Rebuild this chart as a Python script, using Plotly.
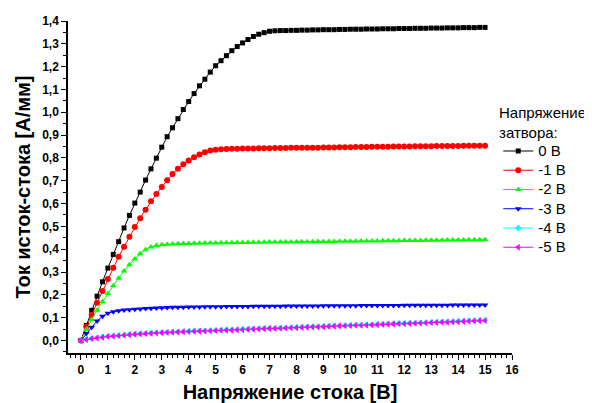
import plotly.graph_objects as go

# Drain voltage grid (V)
vds = [0.0, 0.2, 0.4, 0.6, 0.8, 1.0, 1.2, 1.4, 1.6, 1.8,
       2.0, 2.2, 2.4, 2.6, 2.8, 3.0, 3.2, 3.4, 3.6, 3.8,
       4.0, 4.2, 4.4, 4.6, 4.8, 5.0, 5.2, 5.4, 5.6, 5.8,
       6.0, 6.2, 6.4, 6.6, 6.8, 7.0, 7.2, 7.4, 7.6, 7.8,
       8.0, 8.2, 8.4, 8.6, 8.8, 9.0, 9.2, 9.4, 9.6, 9.8,
       10.0, 10.2, 10.4, 10.6, 10.8, 11.0, 11.2, 11.4, 11.6, 11.8,
       12.0, 12.2, 12.4, 12.6, 12.8, 13.0, 13.2, 13.4, 13.6, 13.8,
       14.0, 14.2, 14.4, 14.6, 14.8, 15.0]

i_0v = [0.000, 0.066, 0.132, 0.194, 0.257, 0.317, 0.377, 0.433, 0.493, 0.548,
        0.602, 0.650, 0.703, 0.752, 0.799, 0.847, 0.893, 0.932, 0.972, 1.012,
        1.047, 1.082, 1.116, 1.145, 1.176, 1.204, 1.226, 1.248, 1.270, 1.288,
        1.304, 1.319, 1.332, 1.342, 1.349, 1.355, 1.357, 1.358,
        1.358, 1.359, 1.359, 1.360, 1.360, 1.361, 1.361, 1.362, 1.362, 1.362,
        1.363, 1.363, 1.364, 1.364, 1.364, 1.365, 1.365, 1.365, 1.366, 1.366,
        1.366, 1.367, 1.367, 1.367, 1.368, 1.368, 1.368, 1.369, 1.369, 1.369,
        1.370, 1.370, 1.370, 1.371, 1.371, 1.371, 1.372, 1.372]

i_m1v = [0.000, 0.060, 0.113, 0.165, 0.217, 0.269, 0.319, 0.367, 0.411, 0.455,
         0.497, 0.536, 0.573, 0.610, 0.642, 0.672, 0.702, 0.730, 0.752, 0.772,
         0.789, 0.803, 0.815, 0.825, 0.832, 0.836, 0.838, 0.839,
         0.840, 0.840, 0.841, 0.841, 0.841, 0.842, 0.842, 0.842, 0.843, 0.843,
         0.843, 0.844, 0.844, 0.844, 0.845, 0.845, 0.845, 0.846, 0.846, 0.846,
         0.847, 0.847, 0.847, 0.848, 0.848, 0.848, 0.849, 0.849, 0.849, 0.849,
         0.850, 0.850, 0.850, 0.850, 0.851, 0.851, 0.851, 0.851, 0.852, 0.852,
         0.852, 0.852, 0.852, 0.853, 0.853, 0.853, 0.853, 0.853]

i_m2v = [0.000, 0.048, 0.092, 0.132, 0.170, 0.206, 0.240, 0.273, 0.304, 0.332,
         0.357, 0.380, 0.398, 0.410, 0.416, 0.419, 0.421, 0.423, 0.424,
         0.425, 0.425, 0.426, 0.426, 0.427, 0.427, 0.427, 0.428, 0.428, 0.428,
         0.429, 0.429, 0.429, 0.430, 0.430, 0.430, 0.431, 0.431, 0.431, 0.432,
         0.432, 0.432, 0.433, 0.433, 0.433, 0.434, 0.434, 0.434, 0.434, 0.435,
         0.435, 0.435, 0.435, 0.436, 0.436, 0.436, 0.436, 0.437, 0.437, 0.437,
         0.437, 0.438, 0.438, 0.438, 0.438, 0.439, 0.439, 0.439, 0.439, 0.440,
         0.440, 0.440, 0.440, 0.441, 0.441, 0.441, 0.441]

i_m3v = [0.000, 0.030, 0.058, 0.085, 0.106, 0.119, 0.126, 0.130, 0.133, 0.135,
         0.137, 0.138, 0.140, 0.141, 0.142, 0.143, 0.144, 0.145, 0.146, 0.146,
         0.147, 0.147, 0.147, 0.148, 0.148, 0.148, 0.148, 0.149, 0.149, 0.149,
         0.149, 0.149, 0.150, 0.150, 0.150, 0.150, 0.150, 0.150, 0.151, 0.151,
         0.151, 0.151, 0.151, 0.151, 0.151, 0.152, 0.152, 0.152, 0.152, 0.152,
         0.152, 0.152, 0.153, 0.153, 0.153, 0.153, 0.153, 0.153, 0.153, 0.153,
         0.154, 0.154, 0.154, 0.154, 0.154, 0.154, 0.154, 0.154, 0.154, 0.155,
         0.155, 0.155, 0.155, 0.155, 0.155, 0.155]

i_m4v = [0.000, 0.005, 0.009, 0.012, 0.015, 0.018, 0.020, 0.022, 0.024, 0.026,
         0.028, 0.030, 0.031, 0.033, 0.034, 0.035, 0.036, 0.037, 0.038, 0.039,
         0.040,
         0.041, 0.042, 0.043, 0.044, 0.045, 0.046, 0.047, 0.047, 0.048, 0.049,
         0.050, 0.051, 0.052, 0.053, 0.054, 0.054, 0.055, 0.056, 0.057, 0.058,
         0.059, 0.060, 0.061, 0.061, 0.062, 0.063, 0.064, 0.065, 0.066, 0.067,
         0.068, 0.068, 0.069, 0.070, 0.071, 0.072, 0.073, 0.074, 0.075, 0.075,
         0.076, 0.077, 0.078, 0.079, 0.080, 0.081, 0.082, 0.082, 0.083, 0.084,
         0.085, 0.086, 0.087, 0.088, 0.089]

i_m5v = [0.000, 0.004, 0.008, 0.011, 0.014, 0.017, 0.019, 0.021, 0.023, 0.025,
         0.027, 0.028, 0.030, 0.031, 0.033, 0.034, 0.035, 0.036, 0.037, 0.038,
         0.039,
         0.040, 0.040, 0.041, 0.042, 0.043, 0.044, 0.045, 0.045, 0.046, 0.047,
         0.048, 0.049, 0.050, 0.051, 0.052, 0.052, 0.053, 0.054, 0.055, 0.056,
         0.057, 0.058, 0.059, 0.059, 0.060, 0.061, 0.062, 0.063, 0.064, 0.065,
         0.066, 0.066, 0.067, 0.068, 0.069, 0.070, 0.071, 0.072, 0.073, 0.073,
         0.074, 0.075, 0.076, 0.077, 0.078, 0.079, 0.080, 0.080, 0.081, 0.082,
         0.083, 0.084, 0.085, 0.086, 0.087]

series_names = ["0 В", "-1 В", "-2 В", "-3 В", "-4 В", "-5 В"]
series_values = [i_0v, i_m1v, i_m2v, i_m3v, i_m4v, i_m5v]
colors = ["#000000", "#ff0000", "#00ff00", "#0000ff", "#00ffff", "#ff00ff"]
symbols = ["square", "circle", "triangle-up", "triangle-down", "diamond", "triangle-left"]
sizes = [5, 6, 6, 6, 5, 6]

for s in series_values:
    assert len(s) == len(vds), len(s)

x_ticks = list(range(0, 17))
y_ticks = [round(0.1 * k, 1) for k in range(0, 15)]

FONT = "Liberation Sans, Arial, sans-serif"

fig = go.Figure()
for name, ys, c, sym, sz in zip(series_names, series_values, colors, symbols, sizes):
    fig.add_trace(go.Scatter(
        x=vds, y=ys, name=f'<span style="font-size:15px">{name}</span>',
        mode="lines+markers",
        line=dict(color=c, width=1),
        marker=dict(symbol=sym, size=sz, color=c, line=dict(width=0)),
    ))

axis_common = dict(
    showline=True, linecolor="black", linewidth=1.5,
    ticks="outside", ticklen=5, tickwidth=1.2, tickcolor="black",
    showgrid=False, zeroline=False, mirror=False, automargin=False,
    tickfont=dict(family=FONT, size=12, color="black", weight="bold"),
)

fig.update_layout(
    width=592, height=403,
    paper_bgcolor="white", plot_bgcolor="white",
    margin=dict(l=60, r=88, t=13, b=58),
    separators=", ",
    font=dict(family=FONT, color="black"),
    xaxis=dict(
        range=[-0.48, 16.0], tickvals=x_ticks, ticktext=[str(v) for v in x_ticks],
        minor=dict(dtick=0.2, tick0=0, ticks="outside", ticklen=3, tickwidth=1, tickcolor="black"),
        title=dict(text="Напряжение стока [В]", font=dict(family=FONT, size=20, weight="bold"), standoff=9),
        **axis_common,
    ),
    yaxis=dict(
        range=[-0.055, 1.4], tickvals=y_ticks, tickformat=".1f",
        minor=dict(dtick=0.05, tick0=0, ticks="outside", ticklen=3, tickwidth=1, tickcolor="black"),
        title=dict(text="Ток исток-стока [А/мм]", font=dict(family=FONT, size=20, weight="bold"), standoff=6),
        **axis_common,
    ),
    legend=dict(
        x=0.969, y=0.6525, xanchor="left", yanchor="top",
        bgcolor="rgba(0,0,0,0)",
        font=dict(family=FONT, size=12.5, color="black"),
        tracegroupgap=0, itemwidth=30,
    ),
    annotations=[dict(
        text="Напряжение<br>затвора:", xref="paper", yref="paper",
        x=0.966, y=0.755, xanchor="left", yanchor="top", align="left",
        showarrow=False, font=dict(family=FONT, size=15, color="black"),
    )],
    showlegend=True,
)

fig.write_html("out.html")
